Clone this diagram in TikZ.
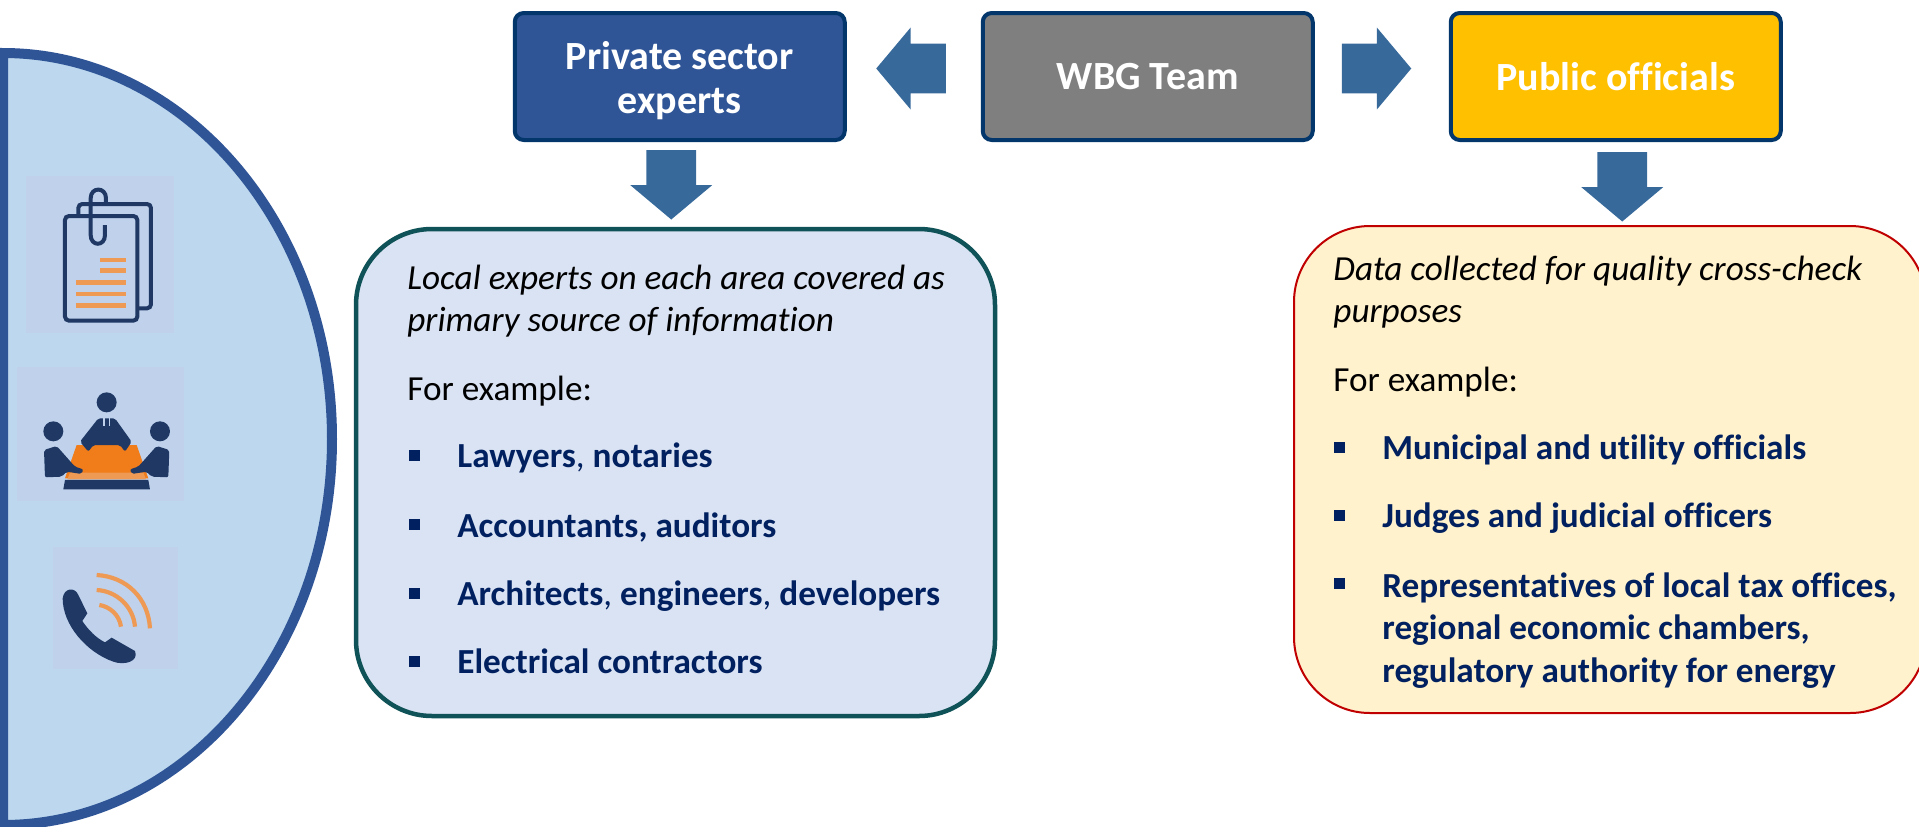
\documentclass[tikz,border=0pt]{standalone}
\usepackage{fontspec}
\setmainfont{Carlito}[Ligatures=NoCommon]
\usetikzlibrary{positioning,shapes.arrows}

\definecolor{halfblue}{HTML}{BDD7EE}
\definecolor{halfline}{HTML}{2F5597}
\definecolor{iconbg}{HTML}{BFD1EB}
\definecolor{iconnavy}{HTML}{1F3864}
\definecolor{iconorange}{HTML}{EE9A55}
\definecolor{tableorange}{HTML}{F07C1A}
\definecolor{boxline}{HTML}{03366B}
\definecolor{arrowblue}{HTML}{376A9B}
\definecolor{itemnavy}{HTML}{002060}
\definecolor{wbggray}{HTML}{7F7F7F}
\definecolor{publicgold}{HTML}{FFC000}
\definecolor{expertsfill}{HTML}{DAE3F3}
\definecolor{expertsline}{HTML}{0F5257}
\definecolor{officialsfill}{HTML}{FFF2CC}
\definecolor{officialsline}{HTML}{C00000}

\begin{document}
\begin{tikzpicture}[
            x=0.5pt,y=-0.5pt,
            topbox/.style={draw=boxline,line width=2pt,rounded corners=4.5pt,minimum width=165pt,minimum height=63.5pt,inner sep=0pt,outer sep=0pt,align=center,text=white,font=\fontsize{20}{22}\selectfont\bfseries},
            blockarrow/.style={single arrow,fill=arrowblue,minimum height=34.75pt,minimum width=40.5pt,single arrow head extend=8pt,single arrow tip angle=100,inner xsep=0pt,inner ysep=12.25pt,outer sep=0pt},
            downarrow/.style={blockarrow,shape border rotate=270,inner xsep=12.25pt,inner ysep=0pt},
            callout/.style={rounded corners=38pt,inner sep=0pt,outer sep=0pt},
            leadtext/.style={anchor=base west,inner sep=0pt,font=\fontsize{17.6}{21}\selectfont\itshape},
            plaintext/.style={anchor=base west,inner sep=0pt,font=\fontsize{17.6}{21}\selectfont},
            itemtext/.style={anchor=base west,inner sep=0pt,text=itemnavy,font=\fontsize{17.6}{21}\selectfont\bfseries},
            itemmark/.style={fill=itemnavy,minimum size=5.5pt,inner sep=0pt},
            iconline/.style={draw=iconnavy,line width=2pt,rounded corners=2pt},
            iconbar/.style={draw=iconorange,line width=2.2pt},
            iconwave/.style={draw=iconorange,line width=2.1pt},
        ]
            \clip (0,0) rectangle (1919,826);

            % half disc on the left
            \draw[fill=halfblue,draw=halfline,line width=5pt] (3,53) .. controls (185,53) and (332,226) .. (332,439) .. controls (332,652) and (185,825) .. (3,825) -- cycle;

            % icon backgrounds
            \fill[iconbg] (26,176) rectangle (174,333);
            \fill[iconbg] (17,367) rectangle (184,501);
            \fill[iconbg] (53,547) rectangle (178,669);

            % document icon
            \begin{scope}[shift={(50,180)},scale=0.3333]
                \draw[iconline] (85,105) -- (85,72) -- (303,72) -- (303,385) -- (265,385);
                \draw[iconline] (45,108) rectangle (262,422);
                \draw[draw=iconnavy,line width=2pt] (168,75) -- (168,55) .. controls (168,20) and (122,20) .. (122,55) -- (122,165) .. controls (122,200) and (165,200) .. (165,165) -- (165,135);
                \draw[iconbar] (150,240) -- (228,240);
                \draw[iconbar] (150,272) -- (228,272);
                \draw[iconbar] (78,308) -- (228,308);
                \draw[iconbar] (78,342) -- (228,342);
                \draw[iconbar] (78,376) -- (228,376);
            \end{scope}

            % meeting icon
            \begin{scope}[shift={(20,370)},scale=0.3333]
                \fill[tableorange] (170,225) -- (350,225) -- (385,325) -- (135,325) -- cycle;
                \fill[iconorange] (150,308) -- (370,308) -- (378,328) -- (142,328) -- cycle;
                \fill[iconnavy] (135,330) -- (385,330) -- (390,358) -- (130,358) -- cycle;
                \fill[iconnavy] (260,97) circle[radius=30];
                \fill[iconnavy] (100,184) circle[radius=30];
                \fill[iconnavy] (420,184) circle[radius=30];
                \fill[iconnavy,rounded corners=1pt] (235,145) -- (285,145) -- (335,215) -- (315,245) -- (300,225) -- (220,225) -- (205,245) -- (180,215) -- cycle;
                \draw[iconbg,line width=0.8pt] (252,145) -- (252,168) (268,145) -- (268,168);
                \fill[iconnavy,rounded corners=1pt] (72,240) -- (110,228) -- (165,290) -- (190,298) -- (185,312) -- (140,305) -- (125,320) -- (75,322) -- cycle;
                \fill[iconnavy,rounded corners=1pt] (448,240) -- (410,228) -- (355,290) -- (330,298) -- (335,312) -- (380,305) -- (395,320) -- (445,322) -- cycle;
            \end{scope}

            % phone icon
            \begin{scope}[shift={(50,545)},scale=0.3333]
                \fill[iconnavy] (38,160) .. controls (42,128) and (75,125) .. (85,150) -- (112,205) -- (97,228) .. controls (115,255) and (140,280) .. (165,292) -- (185,278) -- (255,318) .. controls (268,350) and (222,362) .. (190,350) .. controls (110,322) and (38,240) .. (38,160) -- cycle;
                \draw[iconwave] (140,90) .. controls (230,95) and (295,160) .. (300,250);
                \draw[iconwave] (140,135) .. controls (200,138) and (250,185) .. (255,245);
                \draw[iconwave] (148,180) .. controls (180,185) and (208,210) .. (213,245);
            \end{scope}

            % top row
            \node[topbox,fill=wbggray] (wbg) at (1147.75,76.5) {WBG Team};
            \node[topbox,fill=halfline,left=69pt of wbg] (private) {\rule{0pt}{18pt}Private sector\\experts};
            \node[topbox,fill=publicgold,right=69pt of wbg] (public) {Public officials};

            % block arrows
            \node[blockarrow,shape border rotate=180,anchor=tail] (arrow_private) at ([xshift=-18.5pt,yshift=4pt]wbg.west) {};
            \node[blockarrow,anchor=tail] (arrow_public) at ([xshift=14.5pt,yshift=4pt]wbg.east) {};
            \node[downarrow,anchor=tail] (arrow_experts) at ([xshift=-4.25pt,yshift=-5pt]private.south) {};
            \node[downarrow,anchor=tail] (arrow_officials) at ([xshift=3.25pt,yshift=-6pt]public.south) {};

            % callouts
            \node[callout,fill=expertsfill,draw=expertsline,line width=2.25pt,minimum width=319.5pt,minimum height=243.5pt] (experts) at (675.5,472.5) {};
            \node[callout,fill=officialsfill,draw=officialsline,line width=1pt,minimum width=316pt,minimum height=243.5pt] (officials) at (1610,469.5) {};

            % left callout text
            \node[leadtext] (experts_a) at (407,289) {Local experts on each area covered as};
            \node[leadtext] (experts_b) at (407,331) {primary source of information};
            \node[plaintext] (experts_c) at (407,400) {For example:};
            \node[itemtext] (lawyers) at (457,467) {Lawyers{\mdseries,} notaries};
            \node[itemtext] (accountants) at (457,537) {Accountants, auditors};
            \node[itemtext] (architects) at (457,605) {Architects{\mdseries,} engineers{\mdseries,} developers};
            \node[itemtext] (electrical) at (457,673) {Electrical contractors};
            \node[itemmark] (mark_a) at (414.5,455.5) {};
            \node[itemmark] (mark_b) at (414.5,524) {};
            \node[itemmark] (mark_c) at (414.5,593) {};
            \node[itemmark] (mark_d) at (414.5,661.5) {};

            % right callout text
            \node[leadtext] (officials_a) at (1333,280) {Data collected for quality cross-check};
            \node[leadtext] (officials_b) at (1333,322) {purposes};
            \node[plaintext] (officials_c) at (1333,391) {For example:};
            \node[itemtext] (municipal) at (1382,459) {Municipal and utility officials};
            \node[itemtext] (judges) at (1382,527) {Judges and judicial officers};
            \node[itemtext] (representatives) at (1382,597) {Representatives of local tax offices,};
            \node[itemtext] (regional) at (1382,639) {regional economic chambers,};
            \node[itemtext] (regulatory) at (1382,682) {regulatory authority for energy};
            \node[itemmark] (mark_e) at (1339.5,447) {};
            \node[itemmark] (mark_f) at (1339.5,515.5) {};
            \node[itemmark] (mark_g) at (1339.5,583.5) {};
        \end{tikzpicture}
\end{document}
